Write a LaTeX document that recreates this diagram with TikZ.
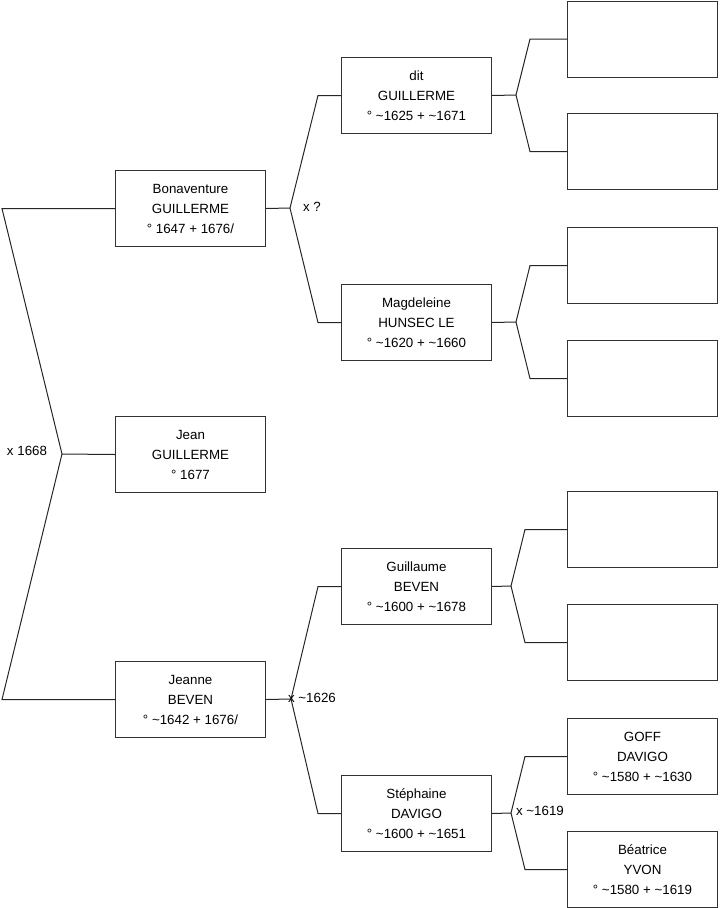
\documentclass[tikz,border=0pt]{standalone}
\usepackage{fontspec}
\setmainfont{Liberation Sans}
\usetikzlibrary{positioning,calc}

\begin{document}
\begin{tikzpicture}[
        x=0.75pt, y=-0.75pt,
        font=\fontsize{10}{15}\selectfont,
        person/.style={draw=black!80, line width=0.75pt, fill=white, align=center, minimum width=112.5pt, minimum height=57pt, inner sep=0pt, anchor=north west},
        link/.style={draw=black!85, line width=0.75pt},
        union/.style={inner sep=0pt}
    ]
        \useasboundingbox (0,0) rectangle (719,908);

        % generation 1
        \node[person] (bon) at (115,170) {Bonaventure\\GUILLERME\\° 1647 + 1676/};
        \node[person] (jean) at (115,416) {Jean\\GUILLERME\\° 1677};
        \node[person] (jeanne) at (115,661) {Jeanne\\BEVEN\\° \textasciitilde1642 + 1676/};

        % generation 2
        \node[person] (dit) at (341,57) {dit\\GUILLERME\\° \textasciitilde1625 + \textasciitilde1671};
        \node[person] (magd) at (341,284) {Magdeleine\\HUNSEC LE\\° \textasciitilde1620 + \textasciitilde1660};
        \node[person] (guil) at (341,548) {Guillaume\\BEVEN\\° \textasciitilde1600 + \textasciitilde1678};
        \node[person] (steph) at (341,775) {Stéphaine\\DAVIGO\\° \textasciitilde1600 + \textasciitilde1651};

        % generation 3
        \node[person] (p1) at (567,0.5) {};
        \node[person] (p2) at (567,113) {};
        \node[person] (p3) at (567,227) {};
        \node[person] (p4) at (567,340) {};
        \node[person] (p5) at (567,491) {};
        \node[person] (p6) at (567,604) {};
        \node[person] (goff) at (567,718) {GOFF\\DAVIGO\\° \textasciitilde1580 + \textasciitilde1630};
        \node[person] (beat) at (567,831) {Béatrice\\YVON\\° \textasciitilde1580 + \textasciitilde1619};

        % unions
        \coordinate (u0) at (62,454);
        \coordinate (u1) at (290,208);
        \coordinate (u2) at (291,699);
        \coordinate (u3) at (516,95);
        \coordinate (u4) at (516,322);
        \coordinate (u5) at (511,586);
        \coordinate (u6) at (511,813);

        \draw[link] (bon.west) -- ++(-113,0) -- (u0) -- ($(jeanne.west)+(-113,0)$) -- (jeanne.west);
        \draw[link] (u0) -- (jean.west);
        \node[union] (x0) at (27,451) {x 1668};

        \draw[link] (dit.west) -- ++(-23,0) -- (u1) -- ($(magd.west)+(-23,0)$) -- (magd.west);
        \draw[link] (bon.east) -- (u1);
        \node[union] (x1) at (312,207) {x ?};

        \draw[link] (guil.west) -- ++(-23,0) -- (u2) -- ($(steph.west)+(-23,0)$) -- (steph.west);
        \draw[link] (jeanne.east) -- (u2);
        \node[union] (x2) at (312,698) {x \textasciitilde1626};

        \draw[link] (p1.west) -- ++(-37,0) -- (u3) -- ($(p2.west)+(-37,0)$) -- (p2.west);
        \draw[link] (dit.east) -- (u3);

        \draw[link] (p3.west) -- ++(-37,0) -- (u4) -- ($(p4.west)+(-37,0)$) -- (p4.west);
        \draw[link] (magd.east) -- (u4);

        \draw[link] (p5.west) -- ++(-42,0) -- (u5) -- ($(p6.west)+(-42,0)$) -- (p6.west);
        \draw[link] (guil.east) -- (u5);

        \draw[link] (goff.west) -- ++(-42,0) -- (u6) -- ($(beat.west)+(-42,0)$) -- (beat.west);
        \draw[link] (steph.east) -- (u6);
        \node[union] (x3) at (540,811) {x \textasciitilde1619};
    \end{tikzpicture}
\end{document}
